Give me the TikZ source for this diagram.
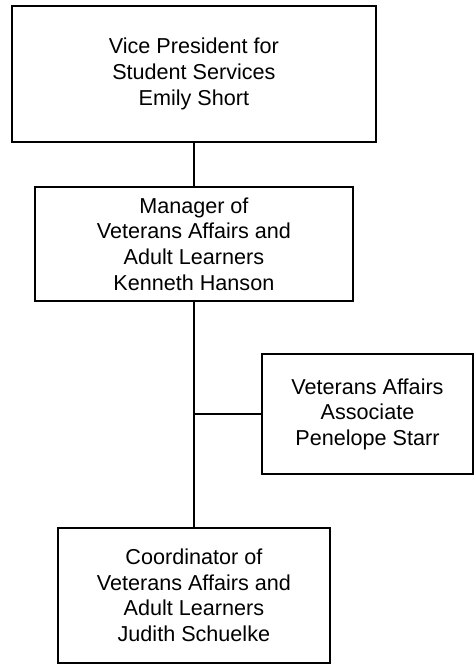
\documentclass[tikz,border=0pt]{standalone}
\usepackage{fontspec}
\setmainfont{Liberation Sans}
\usetikzlibrary{positioning}

\begin{document}
\begin{tikzpicture}[
      x=0.5pt,y=-0.5pt,
      every node/.style={font=\fontsize{10.8}{12.85}\selectfont},
      post/.style={draw=black,line width=1pt,fill=white,align=center,inner sep=2pt},
      ln/.style={draw=black,line width=1pt}
    ]
    \useasboundingbox (0,0) rectangle (474,665);
    % boxes
    \node[post,minimum width=181.6pt,minimum height=68.2pt] (vp) at (193.9,73.9)
      {Vice President for\\Student Services\\Emily Short};
    \node[post,minimum width=158.9pt,minimum height=56.7pt] (mgr) at (193.9,244)
      {Manager of\\Veterans Affairs and\\Adult Learners\\Kenneth Hanson};
    \node[post,minimum width=105.5pt,minimum height=59.9pt] (assoc) at (367.5,414.2)
      {Veterans Affairs\\Associate\\Penelope Starr};
    \node[post,minimum width=136.2pt,minimum height=67.7pt] (coord) at (193.9,595.3)
      {Coordinator of\\Veterans Affairs and\\Adult Learners\\Judith Schuelke};
    % connectors
    \coordinate (jn) at (mgr.south |- assoc.west);
    \draw[ln] (vp) -- (mgr);
    \draw[ln] (mgr) -- (coord);
    \draw[ln] (jn) -- (assoc);
  \end{tikzpicture}
\end{document}
